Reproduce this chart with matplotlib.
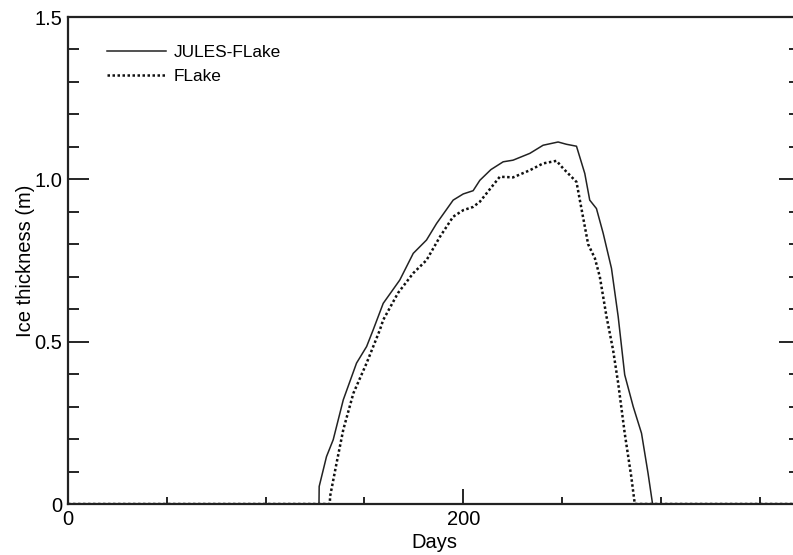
import matplotlib
matplotlib.use("Agg")
import matplotlib.pyplot as plt
from matplotlib.ticker import MultipleLocator

plt.rcParams['font.family'] = ['Liberation Sans', 'DejaVu Sans']

# JULES-FLake ice thickness (days, m)
jules_day = [0, 127.0, 127.1, 130.8, 134.2, 139.3, 146.0, 151.1, 154.4, 159.5, 167.9,
             174.7, 181.4, 186.5, 194.9, 200.0, 205.0, 208.4, 214.0, 220.2, 225.2,
             233.7, 240.4, 248.0, 252.2, 257.3, 261.5, 264.0, 267.4, 270.8, 275.0,
             278.4, 281.7, 286.0, 290.2, 293.5, 295.8, 370]
jules_ice = [0, 0, 0.054, 0.146, 0.198, 0.321, 0.434, 0.485, 0.536, 0.618, 0.690,
             0.772, 0.813, 0.864, 0.936, 0.955, 0.965, 0.997, 1.030, 1.054, 1.059,
             1.080, 1.105, 1.115, 1.108, 1.102, 1.018, 0.936, 0.910, 0.834, 0.726,
             0.577, 0.398, 0.300, 0.218, 0.095, 0, 0]

# FLake ice thickness (days, m)
flake_day = [0, 132.5, 132.6, 135.9, 139.3, 144.4, 151.1, 157.8, 159.5, 167.0, 174.7,
             181.4, 188.2, 194.9, 200.0, 205.0, 208.4, 218.5, 225.2, 233.7, 240.4,
             247.2, 250.5, 257.3, 259.0, 263.2, 266.6, 269.1, 272.5, 275.8, 278.4,
             281.7, 285.0, 286.8, 370]
flake_ice = [0, 0, 0.023, 0.126, 0.229, 0.341, 0.434, 0.536, 0.567, 0.650, 0.711,
             0.751, 0.823, 0.885, 0.905, 0.915, 0.931, 1.008, 1.006, 1.028, 1.049,
             1.057, 1.034, 0.992, 0.936, 0.800, 0.757, 0.700, 0.577, 0.475, 0.372,
             0.218, 0.085, 0, 0]

fig = plt.figure(figsize=(7.93, 5.55), dpi=100)
# the right spine sits just past the picture edge, as in the original
ax = fig.add_axes([68/793, 1-504/555, (800-68)/793, (504-17)/555])

ax.plot(jules_day, jules_ice, color='#222222', linewidth=1.1, label='JULES-FLake')
ax.plot(flake_day, flake_ice, color='#111111', linewidth=1.8, linestyle=(0, (1, 1)),
        label='FLake')

ax.set_xlim(0, 370.4)
ax.set_ylim(0, 1.5)
ax.xaxis.set_major_locator(MultipleLocator(200))
ax.xaxis.set_minor_locator(MultipleLocator(50))
ax.yaxis.set_minor_locator(MultipleLocator(0.1))
ax.set_yticks([0, 0.5, 1.0, 1.5])
ax.set_yticklabels(['0', '0.5', '1.0', '1.5'])

ax.tick_params(axis='x', which='major', direction='in', length=11, width=1.2,
               labelsize=14.5, pad=4)
ax.tick_params(axis='x', which='minor', direction='in', length=5, width=1.2)
ax.tick_params(axis='y', which='major', direction='in', length=15, width=1.2,
               labelsize=14.5, pad=4, right=True)
ax.tick_params(axis='y', which='minor', direction='in', length=8, width=1.2, right=True)

for s in ax.spines.values():
    s.set_linewidth(1.6)
    s.set_color('#222222')

ax.set_xlabel('Days', fontsize=14.5, labelpad=3)
ax.set_ylabel('Ice thickness (m)', fontsize=14.5, labelpad=0)

ax.legend(loc='upper left', bbox_to_anchor=(0.044, 0.956), frameon=False, fontsize=12.4,
          handlelength=3.4, handletextpad=0.45, labelspacing=0.48, borderaxespad=0)

fig.savefig('out.png', dpi=100)
